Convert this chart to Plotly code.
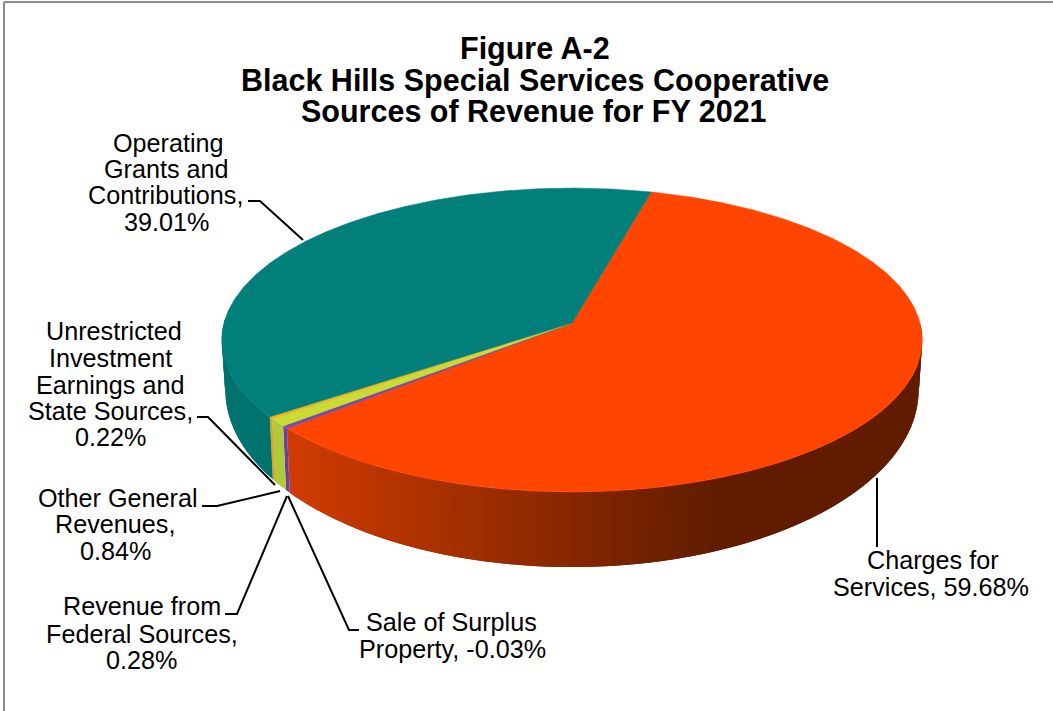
import numpy as np
import plotly.graph_objects as go

# ---- data ----
categories = ["Charges for Services", "Sale of Surplus Property", "Revenue from Federal Sources",
              "Other General Revenues", "Unrestricted Investment Earnings and State Sources",
              "Operating Grants and Contributions"]
values = [59.68, -0.03, 0.28, 0.84, 0.22, 39.01]
top_colors = ["#FF4500", "#7B4BA8", "#7B4BA8", "#C9DC34", "#F2B21C", "#007F7B"]
side_colors = ["#D23C00", "#6E3F98", "#6E3F98", "#B0C83A", "#E2A418", "#00736F"]

# ---- drawing style: perspective pie ----
CX, Y0, AX, AY, K = 572.0, 323.0, 348.0, 150.0, 0.112
Y0B, AYB, SXB = 370.0, 175.0, 0.99
START = 14.6


def rim(phi_deg, bottom=False):
    phi = np.radians(phi_deg)
    w = 1 + K * np.cos(phi)
    sx, sy = np.sin(phi) / w, np.cos(phi) / w
    if bottom:
        return CX + SXB * AX * sx, Y0B + AYB * (-sy)
    return CX + AX * sx, Y0 - AY * sy


fig = go.Figure()
total = sum(abs(v) for v in values)
edges = START + np.concatenate([[0], np.cumsum([abs(v) for v in values])]) * 360 / total


def mix(c1, c2, t):
    a = [int(c1[i:i + 2], 16) for i in (1, 3, 5)]
    b = [int(c2[i:i + 2], 16) for i in (1, 3, 5)]
    return "rgb({},{},{})".format(*[round(p + (q - p) * t) for p, q in zip(a, b)])


def poly(x, y, color, width=0.6):
    fig.add_trace(go.Scatter(x=x, y=y, mode="lines", fill="toself", fillcolor=color,
                             line=dict(color=color, width=width), hoverinfo="skip", showlegend=False))


# side wall: each strip runs on under the next one, so no seams show
for i, (a, b) in enumerate(zip(edges[:-1], edges[1:])):
    lo, hi = max(a, 90.0), min(b, 272.0)
    if hi <= lo:
        continue
    n = max(1, int((hi - lo) / 1.0))
    steps = np.linspace(lo, hi, n + 1)
    for j, (p, q) in enumerate(zip(steps[:-1], steps[1:])):
        over = steps[min(j + 2, n)]
        phis = np.linspace(p, over, 5)
        xt, yt = rim(phis)
        xb, yb = rim(phis[::-1], True)
        color = side_colors[i]
        if i == 0:
            xm = rim((p + q) / 2)[0]
            t = min(1.0, max(0.0, (xm - 285) / 430))
            color = mix("#D23C00", "#611C00", t)
        poly(np.r_[xt, xb, xt[0]], np.r_[yt, yb, yt[0]], color, width=0)

# top face
for i, (a, b) in enumerate(zip(edges[:-1], edges[1:])):
    phis = np.linspace(a, b, max(3, int((b - a) * 2)))
    xs, ys = rim(phis)
    poly(np.r_[CX, xs, CX], np.r_[Y0, ys, Y0], top_colors[i])

# leader lines
leaders = [
    ([248, 260, 303], [201, 201, 240]),
    ([197, 208, 275], [417, 417, 485]),
    ([202, 217, 280], [506, 506, 491]),
    ([225, 237, 287], [614, 614, 496]),
    ([359, 349, 288], [630, 630, 496]),
    ([877, 877], [478, 547]),
]
for lx, ly in leaders:
    fig.add_trace(go.Scatter(x=lx, y=ly, mode="lines", line=dict(color="black", width=2),
                             hoverinfo="skip", showlegend=False))

label_lines = [
    ("Operating", 168, 143), ("Grants and", 166, 169), ("Contributions,", 165, 195), ("39.01%", 166, 222),
    ("Unrestricted", 114, 331), ("Investment", 110, 358), ("Earnings and", 110, 385),
    ("State Sources,", 110, 411), ("0.22%", 110, 437),
    ("Other General", 118, 498), ("Revenues,", 115, 524), ("0.84%", 115, 551),
    ("Revenue from", 142, 606), ("Federal Sources,", 142, 634), ("0.28%", 141, 660),
    ("Sale of Surplus", 451, 622), ("Property, -0.03%", 452, 649),
    ("Charges for", 933, 560), ("Services, 59.68%", 931, 587),
]
title_lines = [("Figure A-2", 535, 48), ("Black Hills Special Services Cooperative", 535, 80),
               ("Sources of Revenue for FY 2021", 534, 111)]

annotations = []
for text, x, y in label_lines:
    annotations.append(dict(x=x, y=y, text=text, showarrow=False, xanchor="center", yanchor="middle",
                            font=dict(family="Liberation Sans", size=25.2, color="black")))
for text, x, y in title_lines:
    annotations.append(dict(x=x, y=y, text="<b>" + text + "</b>", showarrow=False, xanchor="center",
                            yanchor="middle", font=dict(family="Liberation Sans", size=30.5, color="black")))

fig.update_layout(
    width=1053, height=711, margin=dict(l=0, r=0, t=0, b=0),
    paper_bgcolor="white", plot_bgcolor="white", showlegend=False,
    xaxis=dict(range=[0, 1053], visible=False, fixedrange=True),
    yaxis=dict(range=[711, 0], visible=False, fixedrange=True),
    annotations=annotations,
    shapes=[
        dict(type="line", x0=4, x1=4, y0=2, y1=711, line=dict(color="#8c8c8c", width=2)),
        dict(type="line", x0=4, x1=1053, y0=2, y1=2, line=dict(color="#8c8c8c", width=2)),
    ],
)
fig.write_html("out.html", config=dict(displayModeBar=False),
               post_script="document.body.style.margin='0';")
